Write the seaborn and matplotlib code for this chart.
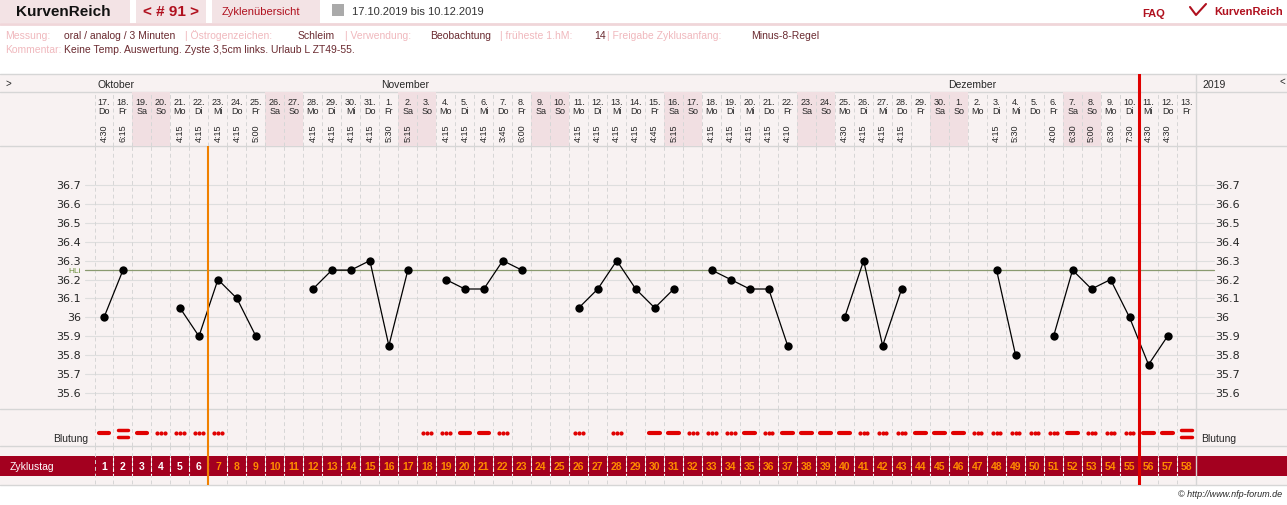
import numpy as np
import pandas as pd
import matplotlib
matplotlib.use("Agg")
import matplotlib.pyplot as plt
import seaborn as sns

# ---------------- data ----------------
cycle_days = list(range(1, 59))
start_date = "2019-10-17"
temps = [36.0, 36.25, None, None, 36.05, 35.9, 36.2, 36.1, 35.9, None,
         None, 36.15, 36.25, 36.25, 36.3, 35.85, 36.25, None, 36.2, 36.15,
         36.15, 36.3, 36.25, None, None, 36.05, 36.15, 36.3, 36.15, 36.05,
         36.15, None, 36.25, 36.2, 36.15, 36.15, 35.85, None, None, 36.0,
         36.3, 35.85, 36.15, None, None, None, None, 36.25, 35.8, None,
         35.9, 36.25, 36.15, 36.2, 36.0, 35.75, 35.9, None]
times = ["4:30", "6:15", "", "", "4:15", "4:15", "4:15", "4:15", "5:00", "",
         "", "4:15", "4:15", "4:15", "4:15", "5:30", "5:15", "", "4:15", "4:15",
         "4:15", "3:45", "6:00", "", "", "4:15", "4:15", "4:15", "4:15", "4:45",
         "5:15", "", "4:15", "4:15", "4:15", "4:15", "4:10", "", "", "4:30",
         "4:15", "4:15", "4:15", "", "", "", "", "4:15", "5:30", "",
         "4:00", "6:30", "5:00", "6:30", "7:30", "4:30", "4:30", ""]
# bleeding: 0 none, 1 spotting (dots), 2 normal (dash), 3 heavy (double dash)
bleeding = [2, 3, 2, 1, 1, 1, 1, 0, 0, 0, 0, 0, 0, 0, 0, 0, 0, 1, 1, 2,
            2, 1, 0, 0, 0, 1, 0, 1, 0, 2, 2, 1, 1, 1, 2, 1, 2, 2, 2, 2,
            1, 1, 1, 2, 2, 2, 1, 1, 1, 1, 1, 2, 1, 1, 1, 2, 2, 3]
weekday_de = ["Mo", "Di", "Mi", "Do", "Fr", "Sa", "So"]
cover_line = 36.25
temp_ticks = [35.6, 35.7, 35.8, 35.9, 36.0, 36.1, 36.2, 36.3, 36.4, 36.5, 36.6, 36.7]
ostrogen_day_end = 6     # orange line after day 6
current_day_end = 55     # red line after day 55

dates = pd.date_range(start_date, periods=len(cycle_days))
df = pd.DataFrame({"day": cycle_days, "temp": temps})
df["seg"] = df["temp"].isna().cumsum()

W, H = 1287, 506
fig = plt.figure(figsize=(W / 100, H / 100), dpi=100)
sns.set_style("white")
plt.rcParams["font.family"] = ["Liberation Sans", "DejaVu Sans"]

def px_axes(x0, y0, x1, y1, **kw):
    return fig.add_axes([x0 / W, 1 - y1 / H, (x1 - x0) / W, (y1 - y0) / H], **kw)

BG = "#f8f2f2"
WEEKEND = "#f1dfe2"
GRID = "#d6d6d6"
DARK = "#a3001f"
PINK_TXT = "#f0b8bd"
DARK_TXT = "#6a2a30"

bg = px_axes(0, 0, W, H)
bg.set_xlim(0, W); bg.set_ylim(H, 0); bg.axis("off")
for x0, x1 in [(0, 130), (136, 206), (212, 320)]:
    bg.add_patch(plt.Rectangle((x0, 0), x1 - x0, 24, color="#f3e3e5", lw=0))
bg.plot([0, W], [25, 25], color="#f0d6d9", lw=2)
bg.text(16, 12, "KurvenReich", fontsize=11, fontweight="bold", va="center", color="#111")
bg.text(143, 12, "< # 91 >", fontsize=11, fontweight="bold", va="center", color="#b0101e")
bg.text(222, 12, "Zyklenübersicht", fontsize=8, va="center", color="#b0101e")
bg.add_patch(plt.Rectangle((332, 5), 12, 12, color="#aaaaaa", lw=0))
bg.text(352, 12, "17.10.2019 bis 10.12.2019", fontsize=8, va="center", color="#333")
bg.text(1142, 14, "FAQ", fontsize=8, fontweight="bold", va="center", color="#b0101e")
bg.text(1214, 12, "KurvenReich", fontsize=8, fontweight="bold", va="center", color="#b0101e")
bg.plot([1190, 1196, 1206], [8, 16, 5], color="#b0101e", lw=1.5)

info = [("Messung:", 5, PINK_TXT), ("oral / analog / 3 Minuten", 64, DARK_TXT),
        ("| Östrogenzeichen:", 185, PINK_TXT), ("Schleim", 298, DARK_TXT),
        ("| Verwendung:", 345, PINK_TXT), ("Beobachtung", 430, DARK_TXT),
        ("| früheste 1.hM:", 500, PINK_TXT), ("14", 594, DARK_TXT),
        ("| Freigabe Zyklusanfang:", 607, PINK_TXT), ("Minus-8-Regel", 751, DARK_TXT)]
for s, x, c in info:
    bg.text(x, 36, s, fontsize=7.5, va="center", color=c)
bg.text(5, 50, "Kommentar:", fontsize=7.5, va="center", color=PINK_TXT)
bg.text(64, 50, "Keine Temp. Auswertung. Zyste 3,5cm links. Urlaub L ZT49-55.",
        fontsize=7.5, va="center", color=DARK_TXT)

bg.add_patch(plt.Rectangle((0, 75), W, 411, color=BG, lw=0))
for y in [75, 93, 147, 410, 447, 486]:
    bg.plot([0, W], [y, y], color=GRID, lw=1)
bg.plot([1196, 1196], [75, 486], color=GRID, lw=1)
bg.add_patch(plt.Rectangle((0, 457), W, 20, color=DARK, lw=0))
bg.text(5, 84, ">", fontsize=7, va="center")
bg.text(1280, 82, "<", fontsize=7, va="center")
bg.text(1202, 85, "2019", fontsize=7.5, va="center")
bg.text(97, 85, "Oktober", fontsize=7.5, va="center")
bg.text(381, 85, "November", fontsize=7.5, va="center")
bg.text(948, 85, "Dezember", fontsize=7.5, va="center")
bg.text(88, 439, "Blutung", fontsize=7.5, va="center", ha="right")
bg.text(1201, 439, "Blutung", fontsize=7.5, va="center")
bg.text(10, 467, "Zyklustag", fontsize=7.5, va="center", color="white")
bg.text(1282, 495, "© http://www.nfp-forum.de", fontsize=6.5, va="center", ha="right", fontstyle="italic")

XL = (0.5, len(cycle_days) + 0.5)
X0, X1 = 94.5, 1196

def strip(y0, y1):
    a = px_axes(X0, y0, X1, y1)
    a.set_xlim(*XL)
    a.patch.set_alpha(0)
    for s in a.spines.values():
        s.set_visible(False)
    a.set_xticks([]); a.set_yticks([])
    return a

hd = strip(93, 147)
hd.set_ylim(1, 0)
for d, dt, tm in zip(cycle_days, dates, times):
    wd = dt.dayofweek
    if wd >= 5:
        hd.axvspan(d - 0.5, d + 0.5, color=WEEKEND, lw=0)
    hd.text(d, 0.26, f"{dt.day}.\n{weekday_de[wd]}", ha="center", va="center",
            fontsize=6.5, linespacing=0.95)
    if tm:
        hd.text(d, 0.74, tm, ha="center", va="center", rotation=90, fontsize=6.5)
for d in range(len(cycle_days) + 1):
    hd.axvline(d + 0.5, color=GRID, lw=0.7, ls=(0, (4, 3)))

ta = strip(147, 410)
ylo = 35.6 - 16 / 189
yhi = 36.7 + 39 / 189
ta.set_ylim(ylo, yhi)
for t in temp_ticks:
    ta.axhline(t, color="#dedede", lw=0.8)
for d in range(len(cycle_days) + 1):
    ta.axvline(d + 0.5, color=GRID, lw=0.7, ls=(0, (4, 3)))
ta.axhline(cover_line, color="#8a9a70", lw=0.9)
for _, g in df.dropna().groupby("seg"):
    sns.lineplot(data=g, x="day", y="temp", ax=ta, color="black", lw=0.9,
                 marker="o", markersize=6, markeredgewidth=0, legend=False)
ta.set_xlabel(""); ta.set_ylabel("")
ta.set_xlim(*XL)
ta.set_xticks([])
ltk = px_axes(0, 147, X0, 410); ltk.set_ylim(ylo, yhi); ltk.set_xlim(0, 1); ltk.axis("off")
rtk = px_axes(X1, 147, W, 410); rtk.set_ylim(ylo, yhi); rtk.set_xlim(0, 1); rtk.axis("off")
for t in temp_ticks:
    lab = f"{t:g}"
    ltk.text(0.86, t, lab, ha="right", va="center", fontsize=8, family="DejaVu Sans")
    rtk.text(0.21, t, lab, ha="left", va="center", fontsize=8, family="DejaVu Sans")
    ltk.plot([0.9, 1], [t, t], color="#dedede", lw=0.8)
    rtk.plot([0, 0.2], [t, t], color="#dedede", lw=0.8)
ltk.plot([0.9, 1], [cover_line] * 2, color="#8a9a70", lw=0.9)
rtk.plot([0, 0.2], [cover_line] * 2, color="#8a9a70", lw=0.9)
ltk.text(0.72, cover_line, "HLi", ha="left", va="center", fontsize=6, color="#6b8e3a")

ba = strip(410, 447)
ba.set_ylim(-1, 1)
for d in range(len(cycle_days) + 1):
    ba.axvline(d + 0.5, color=GRID, lw=0.7, ls=(0, (4, 3)))
red = "#e00000"
yb = -0.3
for d, b in zip(cycle_days, bleeding):
    if b == 1:
        ba.plot([d - 0.2, d, d + 0.2], [yb] * 3, ls="none", marker="o", ms=2, color=red)
    elif b == 2:
        ba.plot([d - 0.28, d + 0.28], [yb, yb], color=red, lw=3, solid_capstyle="round")
    elif b == 3:
        ba.plot([d - 0.28, d + 0.28], [yb + 0.15, yb + 0.15], color=red, lw=2.5, solid_capstyle="round")
        ba.plot([d - 0.28, d + 0.28], [yb - 0.2, yb - 0.2], color=red, lw=2.5, solid_capstyle="round")

ca = strip(447, 486)
ca.set_ylim(486, 447)
for d in range(len(cycle_days) + 1):
    ca.plot([d + 0.5] * 2, [447, 486], color=GRID, lw=0.7, ls=(0, (4, 3)))
    if 0 < d < len(cycle_days):
        ca.plot([d + 0.5] * 2, [458, 476], color="white", lw=0.8, ls=(0, (3, 2)))
for d in cycle_days:
    ca.text(d, 467, str(d), ha="center", va="center", fontsize=7.5, fontweight="bold",
            color="white" if d <= ostrogen_day_end else "#ff8c00")

for a in [hd, ta, ba, ca]:
    a.axvline(current_day_end + 0.5, color="#e00000", lw=2.2)
for a in [ta, ba, ca]:
    a.axvline(ostrogen_day_end + 0.5, color="#f08000", lw=1.5)
mo = strip(75, 93)
mo.axvline(current_day_end + 0.5, color="#e00000", lw=2.2)

fig.savefig("out.png", dpi=100)
